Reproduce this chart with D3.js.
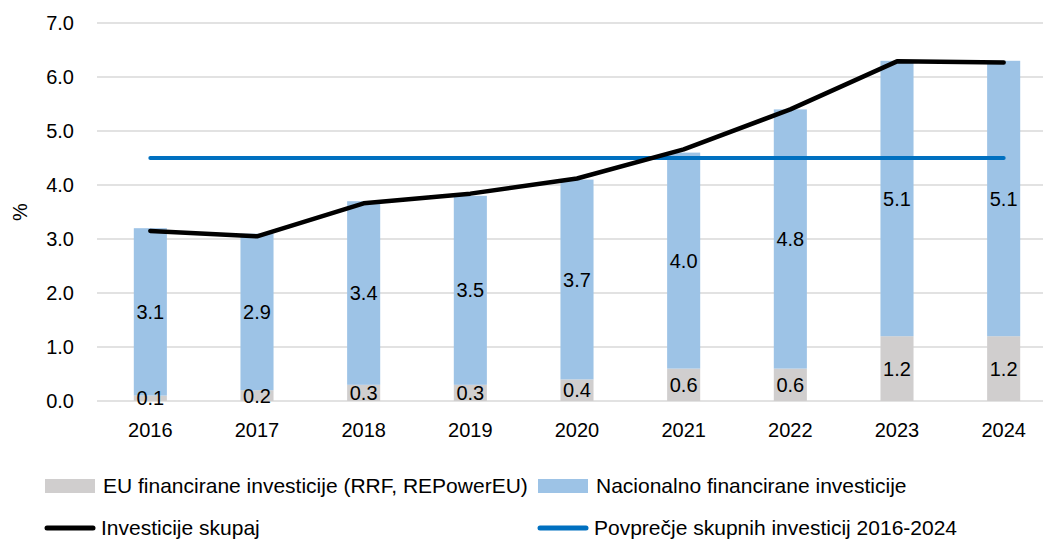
<!DOCTYPE html>
<html>
<head>
<meta charset="utf-8">
<script src="https://cdn.jsdelivr.net/npm/d3@7"></script>
<style>
  body { margin: 0; background: #fff; }
  text { font-family: "Liberation Sans", sans-serif; fill: #000; }
</style>
</head>
<body>
<div id="chart"></div>
<script>
//Data
var years = ["2016", "2017", "2018", "2019", "2020", "2021", "2022", "2023", "2024"];
var euFunded = [0.1, 0.2, 0.3, 0.3, 0.4, 0.6, 0.6, 1.2, 1.2];
var nationalFunded = [3.1, 2.9, 3.4, 3.5, 3.7, 4.0, 4.8, 5.1, 5.1];
var totalInvest = [3.15, 3.05, 3.66, 3.84, 4.12, 4.66, 5.4, 6.29, 6.27];
var averageInvest = 4.5;
var yTicks = [0, 1, 2, 3, 4, 5, 6, 7];

var legendLabels = ["EU financirane investicije (RRF, REPowerEU)", "Nacionalno financirane investicije",
    "Investicije skupaj", "Povprečje skupnih investicij 2016-2024"];

//Setup
var width = 1043, height = 539;
var euColor = "#D0CECE", natColor = "#9DC3E6", totalColor = "#000000", avgColor = "#0070C0";

var x = d3.scaleBand().domain(years).range([97, 1057]).paddingInner(0.69).paddingOuter(0.345);
var y = d3.scaleLinear().domain([0, 7]).range([401, 23]);

var svg = d3.select("#chart").append("svg")
    .attr("width", width)
    .attr("height", height);

//Gridlines
svg.append("g").selectAll("line")
    .data(yTicks)
    .enter().append("line")
    .attr("x1", 97).attr("x2", width)
    .attr("y1", d => y(d)).attr("y2", d => y(d))
    .attr("stroke", "#D9D9D9")
    .attr("stroke-width", 1.5);

//Y axis labels
var yAxis = svg.append("g")
    .attr("transform", "translate(97,0)")
    .call(d3.axisLeft(y).tickValues(yTicks).tickFormat(d3.format(".1f")).tickSize(0).tickPadding(23));
yAxis.select(".domain").remove();
yAxis.selectAll("text").style("font-size", "20px").style("font-family", "Liberation Sans, sans-serif");

svg.append("text")
    .attr("transform", "translate(27,212) rotate(-90)")
    .attr("text-anchor", "middle")
    .style("font-size", "20px")
    .text("%");

//X axis labels
var xAxis = svg.append("g")
    .attr("transform", "translate(0,401)")
    .call(d3.axisBottom(x).tickSize(0).tickPadding(22));
xAxis.select(".domain").remove();
xAxis.selectAll("text").style("font-size", "20px").style("font-family", "Liberation Sans, sans-serif");

//Stacked bars
var stackData = years.map((yr, i) => ({ year: yr, eu: euFunded[i], nat: nationalFunded[i] }));
var series = d3.stack().keys(["eu", "nat"])(stackData);
var colors = { eu: euColor, nat: natColor };

svg.append("g").selectAll("g")
    .data(series)
    .enter().append("g")
    .attr("fill", d => colors[d.key])
    .selectAll("rect")
    .data(d => d)
    .enter().append("rect")
    .attr("x", d => x(d.data.year))
    .attr("width", x.bandwidth())
    .attr("y", d => y(d[1]))
    .attr("height", d => y(d[0]) - y(d[1]));

//Bar labels (after all bars so none is hidden)
svg.append("g").selectAll("g")
    .data(series)
    .enter().append("g")
    .selectAll("text")
    .data(d => d)
    .enter().append("text")
    .attr("x", d => x(d.data.year) + x.bandwidth() / 2)
    .attr("y", d => (y(d[0]) + y(d[1])) / 2)
    .attr("dy", "0.35em")
    .attr("text-anchor", "middle")
    .style("font-size", "20px")
    .text(d => d3.format(".1f")(d[1] - d[0]));

//Average line
svg.append("line")
    .attr("x1", x(years[0]) + x.bandwidth() / 2)
    .attr("x2", x(years[years.length - 1]) + x.bandwidth() / 2)
    .attr("y1", y(averageInvest)).attr("y2", y(averageInvest))
    .attr("stroke", avgColor)
    .attr("stroke-width", 4)
    .attr("stroke-linecap", "round");

//Total line
var totalLine = d3.line()
    .x((d, i) => x(years[i]) + x.bandwidth() / 2)
    .y(d => y(d));

svg.append("path")
    .attr("d", totalLine(totalInvest))
    .attr("fill", "none")
    .attr("stroke", totalColor)
    .attr("stroke-width", 4.5)
    .attr("stroke-linecap", "round")
    .attr("stroke-linejoin", "round");

//Legend
var legendItems = [
    { label: legendLabels[0], type: "rect", color: euColor, x: 45, y: 486 },
    { label: legendLabels[1], type: "rect", color: natColor, x: 538, y: 486 },
    { label: legendLabels[2], type: "line", color: totalColor, x: 45, y: 528 },
    { label: legendLabels[3], type: "line", color: avgColor, x: 538, y: 528 }
];

var legend = svg.append("g").selectAll("g")
    .data(legendItems)
    .enter().append("g")
    .attr("transform", d => `translate(${d.x},${d.y})`);

legend.filter(d => d.type === "rect").append("rect")
    .attr("x", 0).attr("y", -7).attr("width", 50).attr("height", 14)
    .attr("fill", d => d.color);

legend.filter(d => d.type === "line").append("line")
    .attr("x1", 2).attr("x2", 48).attr("y1", 0).attr("y2", 0)
    .attr("stroke", d => d.color)
    .attr("stroke-width", 5)
    .attr("stroke-linecap", "round");

legend.append("text")
    .attr("x", d => d.type === "rect" ? 58 : 56)
    .attr("y", 0)
    .attr("dy", "0.35em")
    .style("font-size", "21px")
    .text(d => d.label);
</script>
</body>
</html>
